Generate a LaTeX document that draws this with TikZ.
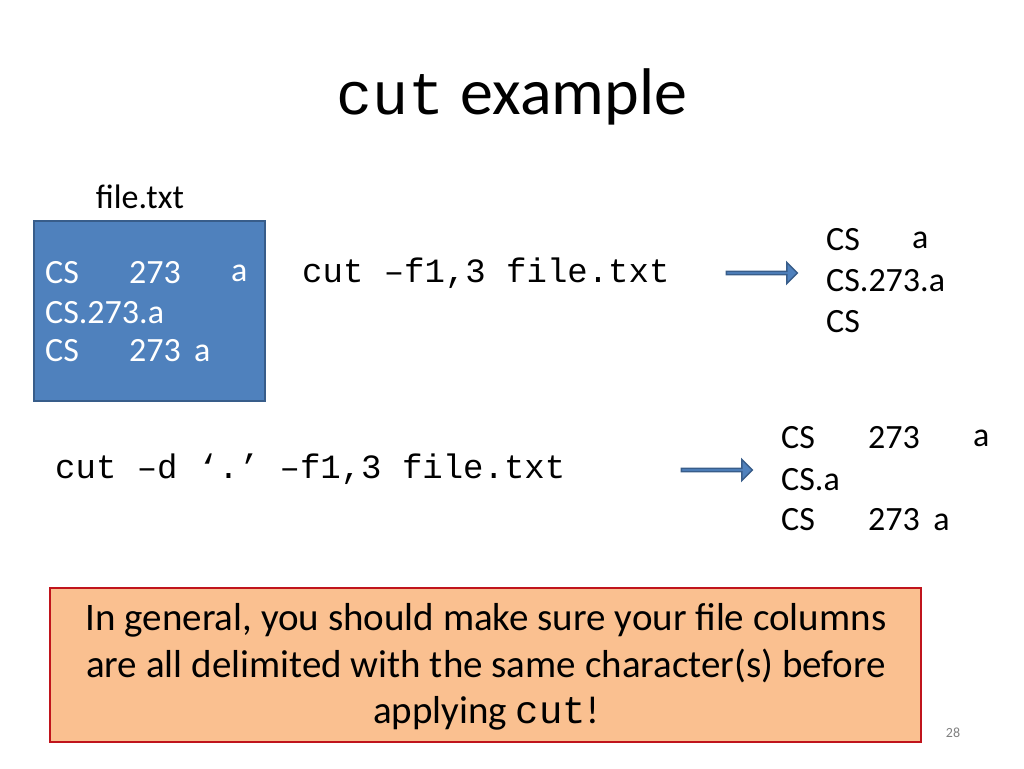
\documentclass[tikz,border=0pt]{standalone}
\usepackage{fontspec}
\setmainfont{Carlito}
\setmonofont{Liberation Mono}
\usetikzlibrary{positioning,shapes.arrows}
\definecolor{boxblue}{HTML}{4F81BD}
\definecolor{boxedge}{HTML}{385D8A}
\definecolor{noteorange}{HTML}{FAC090}
\definecolor{notered}{HTML}{C0141C}
\begin{document}
\begin{tikzpicture}[x=1pt, y=-1pt,
                    every node/.append style={inner sep=0pt, anchor=west},
                    txt/.style={font=\fontsize{34}{40}\selectfont},
                    notetxt/.style={font=\fontsize{39}{44}\selectfont, anchor=center},
                    cmd/.style={font=\ttfamily\fontsize{34}{38}\selectfont},
                    bigarrow/.style={single arrow, draw=boxedge, fill=boxblue, line width=1.5pt,
                                     minimum width=21pt, minimum height=71pt, single arrow head extend=4pt,
                                     anchor=center}]
    \useasboundingbox (0,0) rectangle (1024,768);

    % Title
    \node [anchor=center] (title) at (512,97) {{\ttfamily\fontsize{60}{62}\selectfont cut}\hspace{16pt}{\fontsize{66}{70}\selectfont example}};

    % Input file
    \node [txt, anchor=center] (fname) at (140,197) {file.txt};
    \draw [draw=boxedge, fill=boxblue, line width=1.5pt] (34,221) rectangle (265,401);
    \node [txt, text=white] (in1a) at (45,273) {CS};
    \node [txt, text=white] (in1b) at (129,273) {273};
    \node [txt, text=white] (in1c) at (231,273) {a};
    \node [txt, text=white] (in2) at (45,313) {CS.273.a};
    \node [txt, text=white] (in3a) at (45,351) {CS};
    \node [txt, text=white] (in3b) at (129,351) {273\ \,a};

    % First command
    \node [cmd] (cmd1) at (302,273) {cut –f1,3 file.txt};
    \node [bigarrow] (arr1) at (761,273) {};
    \node [txt] (out1a) at (826,240) {CS};
    \node [txt] (out1b) at (912,240) {a};
    \node [txt] (out2) at (826,281) {CS.273.a};
    \node [txt] (out3) at (826,322) {CS};

    % Second command
    \node [cmd] (cmd2) at (55,469) {cut –d ‘.’ –f1,3 file.txt};
    \node [bigarrow] (arr2) at (716,470) {};
    \node [txt] (res1a) at (781,438) {CS};
    \node [txt] (res1b) at (868,438) {273};
    \node [txt] (res1c) at (973,438) {a};
    \node [txt] (res2) at (781,480) {CS.a};
    \node [txt] (res3a) at (781,520) {CS};
    \node [txt] (res3b) at (868,520) {273\ \,a};

    % Note
    \draw [draw=notered, fill=noteorange, line width=1.5pt] (50,588) rectangle (921,742);
    \node [notetxt] (note1) at (486,620) {In general, you should make sure your file columns};
    \node [notetxt] (note2) at (486,666) {are all delimited with the same character(s) before};
    \node [notetxt] (note3) at (486,713) {applying {\ttfamily cut}!};

    \node [anchor=center, text=gray, font=\fontsize{14}{16}\selectfont] (pagenum) at (953,733) {28};
\end{tikzpicture}
\end{document}
